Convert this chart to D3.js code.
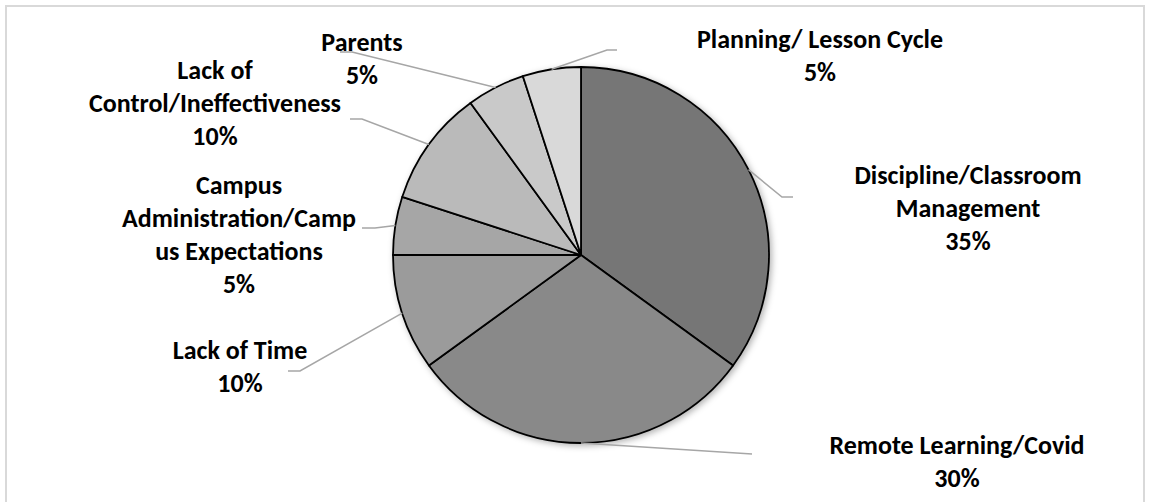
<!DOCTYPE html>
<html>
<head>
<meta charset="utf-8">
<script src="https://cdn.jsdelivr.net/npm/d3@7"></script>
<style>
  html, body { margin: 0; padding: 0; background: #fff; }
  svg { display: block; }
  text { font-family: Calibri, Carlito, Lato, sans-serif; font-weight: 700; fill: #000; }
</style>
</head>
<body>
<svg id="chart" width="1152" height="502"></svg>
<script>
// Survey shares, clockwise from 12 o'clock
const categories = [
  "Discipline/Classroom Management",
  "Remote Learning/Covid",
  "Lack of Time",
  "Campus Administration/Campus Expectations",
  "Lack of Control/Ineffectiveness",
  "Parents",
  "Planning/ Lesson Cycle"
];
const values = [35, 30, 10, 5, 10, 5, 5];
// How each category name wraps in its label
const labelLines = [
  ["Discipline/Classroom", "Management"],
  ["Remote Learning/Covid"],
  ["Lack of Time"],
  ["Campus", "Administration/Camp", "us Expectations"],
  ["Lack of", "Control/Ineffectiveness"],
  ["Parents"],
  ["Planning/ Lesson Cycle"]
];

// Styling and placement
const fills = ["#767676", "#898989", "#9b9b9b", "#a6a6a6", "#bababa", "#c9c9c9", "#d9d9d9"];
const labelLayout = [
  { tx: 968, ty: 175, elbow: [782, 197], end: [793, 197] },
  { tx: 957, ty: 445, elbow: [752, 454], end: [752, 454] },
  { tx: 240, ty: 350, elbow: [300, 371], end: [288, 371] },
  { tx: 239, ty: 185, elbow: [375, 228], end: [362, 228] },
  { tx: 215, ty: 70,  elbow: [362, 119], end: [350, 119] },
  { tx: 362, ty: 42,  elbow: [352, 52],  end: [340, 52] },
  { tx: 820, ty: 39,  elbow: [607, 50],  end: [617, 50] }
];
const cx = 581, cy = 255, radius = 188;
const fontSize = 26, lineGap = 33;

const svg = d3.select("#chart");

// chart frame
svg.append("rect")
  .attr("x", 6).attr("y", 6)
  .attr("width", 1138).attr("height", 504)
  .attr("fill", "none")
  .attr("stroke", "#d9d9d9")
  .attr("stroke-width", 2);

const defs = svg.append("defs");
const shadow = defs.append("filter").attr("id", "pieShadow")
  .attr("x", "-10%").attr("y", "-10%").attr("width", "120%").attr("height", "120%");
shadow.append("feDropShadow")
  .attr("dx", 2).attr("dy", 2).attr("stdDeviation", 3)
  .attr("flood-color", "#000").attr("flood-opacity", 0.3);

const data = categories.map((c, i) => ({ name: c, value: values[i], i }));
const pie = d3.pie().sort(null).value(d => d.value).startAngle(0).endAngle(2 * Math.PI);
const arcs = pie(data);
const arc = d3.arc().innerRadius(0).outerRadius(radius);

const g = svg.append("g").attr("transform", `translate(${cx},${cy})`);

g.append("g").attr("filter", "url(#pieShadow)")
  .selectAll("path")
  .data(arcs)
  .join("path")
  .attr("d", arc)
  .attr("fill", d => fills[d.data.i])
  .attr("stroke", "#000")
  .attr("stroke-width", 1.8)
  .attr("stroke-linejoin", "round");

// leader lines from the middle of each slice's rim
const line = d3.line();
svg.append("g")
  .selectAll("path")
  .data(arcs)
  .join("path")
  .attr("d", d => {
    const a = (d.startAngle + d.endAngle) / 2;
    const p0 = [cx + radius * Math.sin(a), cy - radius * Math.cos(a)];
    const L = labelLayout[d.data.i];
    return line([p0, L.elbow, L.end]);
  })
  .attr("fill", "none")
  .attr("stroke", "#a6a6a6")
  .attr("stroke-width", 1.5);

// category labels with percentages
const labels = svg.append("g");
arcs.forEach(d => {
  const i = d.data.i;
  const L = labelLayout[i];
  const lines = labelLines[i].concat([d.data.value + "%"]);
  const t = labels.append("text")
    .attr("text-anchor", "middle")
    .attr("font-size", fontSize);
  lines.forEach((s, k) => {
    t.append("tspan")
      .attr("x", L.tx)
      .attr("y", L.ty + k * lineGap)
      .attr("dominant-baseline", "central")
      .text(s);
  });
});
</script>
</body>
</html>
